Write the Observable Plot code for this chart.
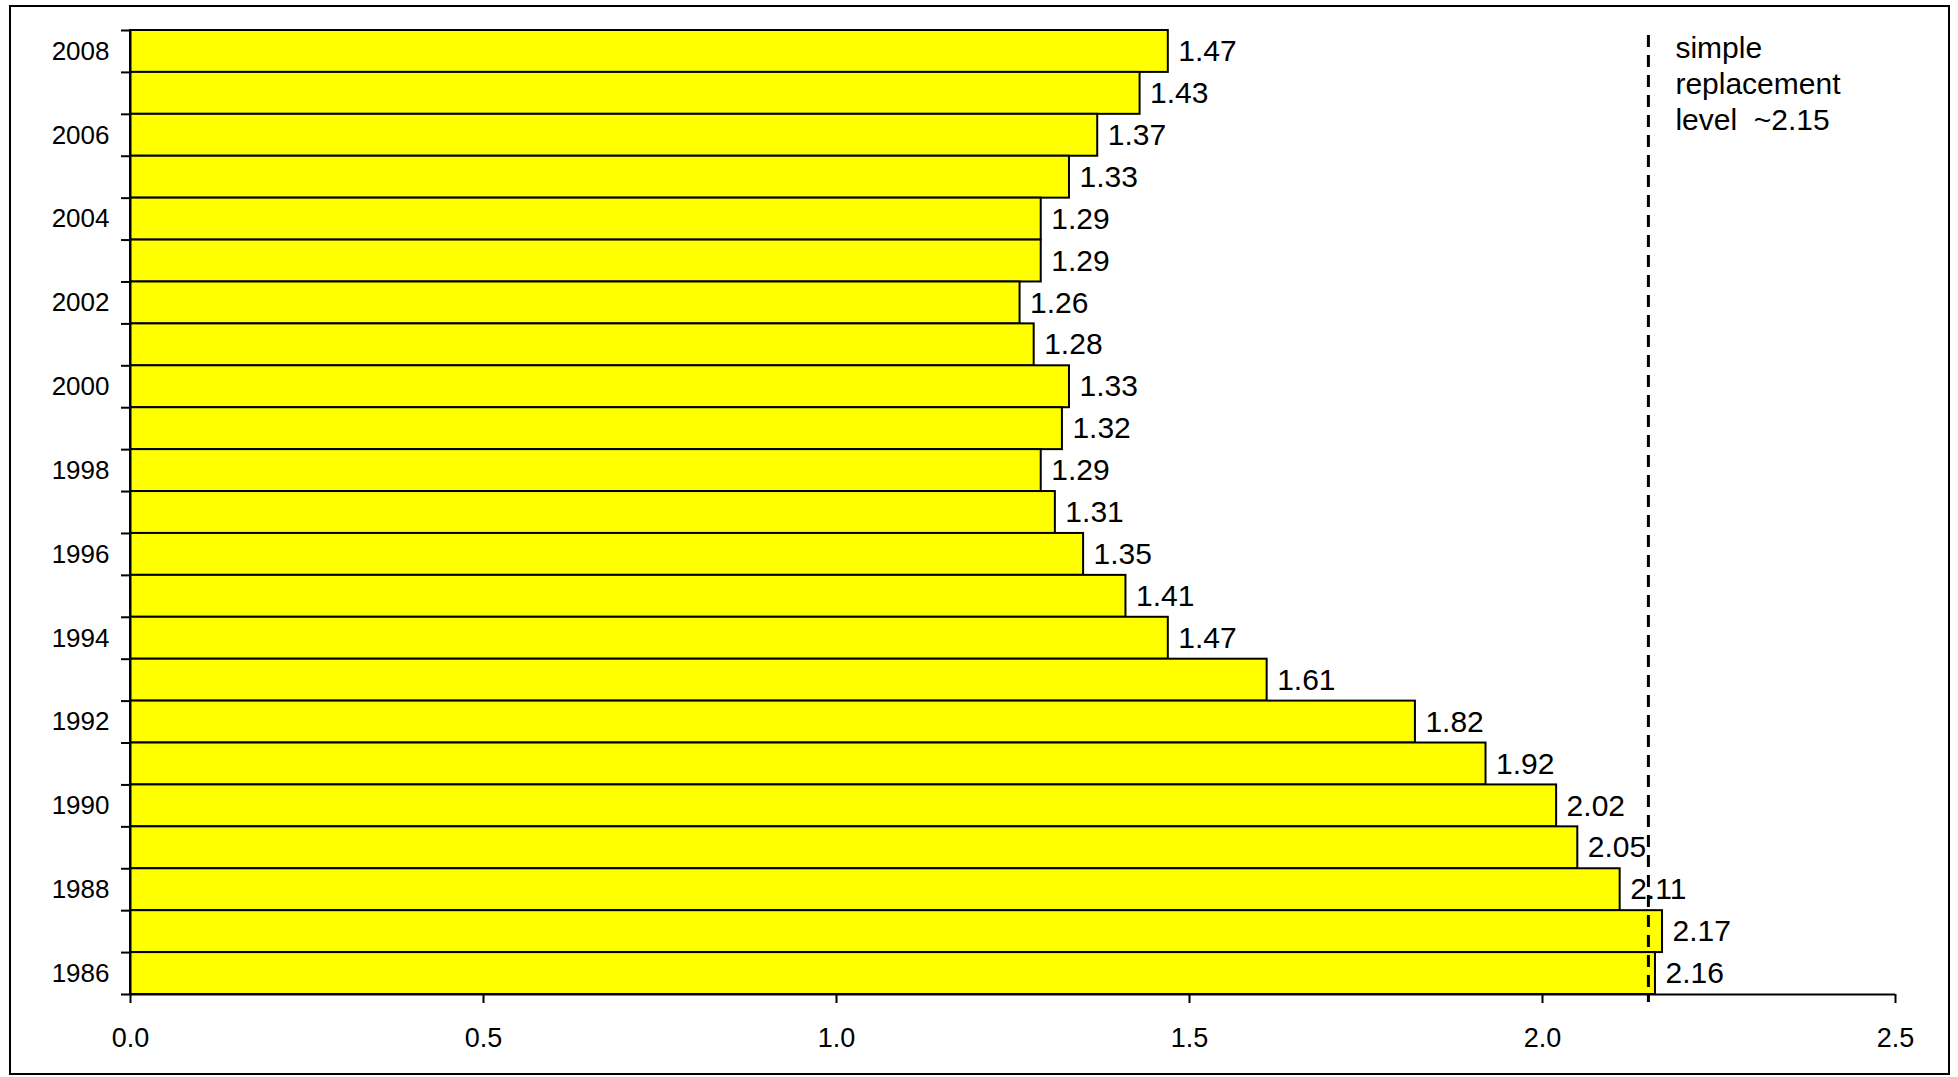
<!DOCTYPE html>
<html><head><meta charset="utf-8">
<script src="https://cdn.jsdelivr.net/npm/d3@7"></script>
<script src="https://cdn.jsdelivr.net/npm/@observablehq/plot@0.6"></script>
<style>
html,body{margin:0;padding:0;background:#fff;}
#wrap{position:relative;width:1958px;height:1077px;overflow:hidden;}
#wrap svg{position:absolute;left:0;top:0;}
#border{position:absolute;left:9px;top:5px;width:1941px;height:1070px;box-sizing:border-box;border:2.5px solid #000;pointer-events:none;}
</style></head><body><div id="wrap"><div id="border"></div></div>
<script>
// Data (top to bottom)
const years = [2008,2007,2006,2005,2004,2003,2002,2001,2000,1999,1998,1997,1996,1995,1994,1993,1992,1991,1990,1989,1988,1987,1986];
const rates = [1.47,1.43,1.37,1.33,1.29,1.29,1.26,1.28,1.33,1.32,1.29,1.31,1.35,1.41,1.47,1.61,1.82,1.92,2.02,2.05,2.11,2.17,2.16];
const labelYears = [2008,2006,2004,2002,2000,1998,1996,1994,1992,1990,1988,1986];
const xTicks = [0,0.5,1,1.5,2,2.5];
const replacementLevel = 2.15;
const annotation = "simple\nreplacement\nlevel\u00a0 ~2.15";

const W = 1958, H = 1077, mt = 30, mb = 83, ml = 130, mr = 63;
const bw = (H - mt - mb) / years.length;
const data = years.map((y, i) => ({year: y, rate: rates[i]}));

const chart = Plot.plot({
  width: W, height: H,
  marginTop: mt, marginBottom: mb, marginLeft: ml, marginRight: mr,
  style: {fontFamily: "'Liberation Sans', Arial, sans-serif", fontSize: "26px", background: "transparent", color: "#000", overflow: "visible"},
  x: {domain: [0, 2.5]},
  y: {type: "band", domain: years, padding: 0, round: false},
  marks: [
    Plot.barX(data, {x: "rate", y: "year", fill: "#ffff00", stroke: "#000", strokeWidth: 2}),
    Plot.ruleX([0], {stroke: "#000", strokeWidth: 2}),
    Plot.ruleY([years[years.length - 1]], {dy: bw / 2, insetLeft: -9, stroke: "#000", strokeWidth: 2}),
    Plot.axisY(years, {tickSize: 9, dy: -bw / 2, tickFormat: () => "", strokeWidth: 2, label: null}),
    Plot.axisY(labelYears, {tickSize: 0, tickPadding: 21, fontSize: 26, tickFormat: d => String(d), label: null}),
    Plot.axisX(xTicks, {tickSize: 9, tickPadding: 24, strokeWidth: 2, tickFormat: d3.format(".1f"), fontSize: 27, label: null}),
    Plot.text(data, {x: "rate", y: "year", text: d => d.rate.toFixed(2), textAnchor: "start", dx: 10, fontSize: 30, fill: "#000"}),
    Plot.ruleX([replacementLevel], {stroke: "#000", strokeWidth: 3, strokeDasharray: "12,8", insetTop: 5, insetBottom: -8}),
    Plot.text([annotation], {x: replacementLevel, frameAnchor: "top", text: d => d, textAnchor: "start", lineAnchor: "top", dx: 27, dy: 2, fontSize: 30, lineHeight: 1.2, fill: "#000"})
  ]
});
document.getElementById("wrap").appendChild(chart);
</script>
</body></html>
